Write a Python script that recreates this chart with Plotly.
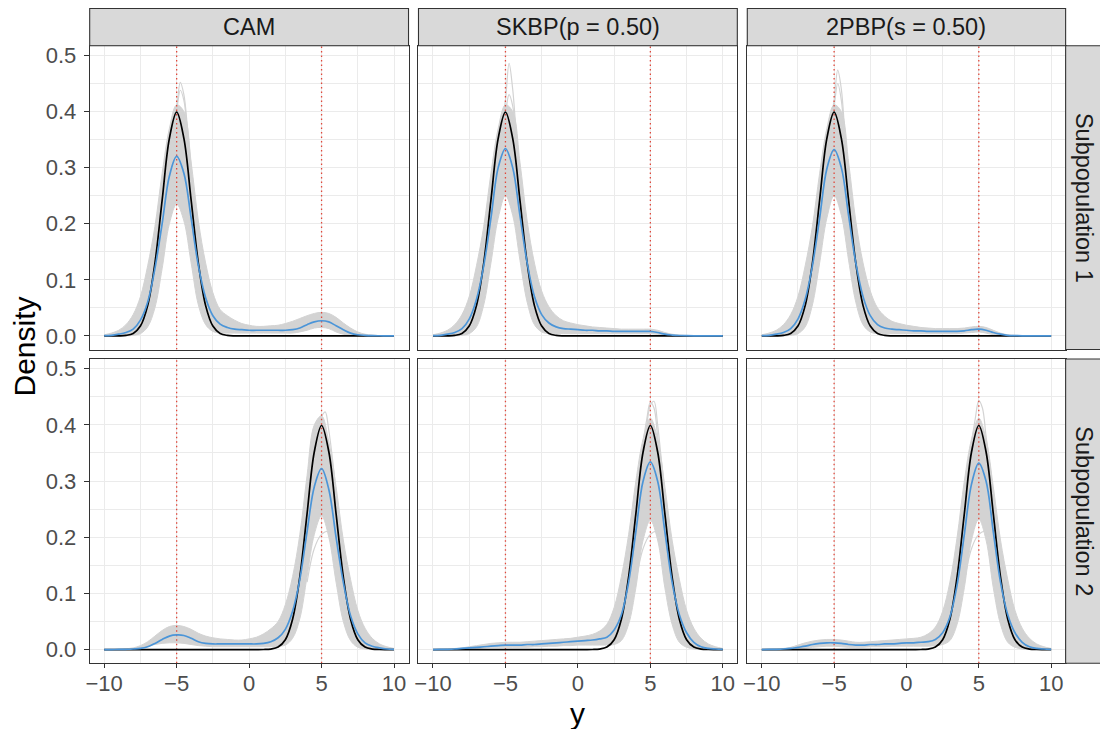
import plotly.graph_objects as go

# ---------------- data ----------------
x_grid = [-10.0, -9.5, -9.0, -8.5, -8.0, -7.5, -7.0, -6.5, -6.0, -5.5,
          -5.0, -4.5, -4.0, -3.5, -3.0, -2.5, -2.0, -1.5, -1.0, -0.5,
          0.0, 0.5, 1.0, 1.5, 2.0, 2.5, 3.0, 3.5, 4.0, 4.5,
          5.0, 5.5, 6.0, 6.5, 7.0, 7.5, 8.0, 8.5, 9.0, 9.5, 10.0]

methods = ["CAM", "SKBP(p = 0.50)", "2PBP(s = 0.50)"]
subpops = ["Subpopulation 1", "Subpopulation 2"]
true_modes = [-5, 5]

x_ticks = [-10, -5, 0, 5, 10]
x_tick_labels = ["\u221210", "\u22125", "0", "5", "10"]
x_minor = [-7.5, -2.5, 2.5, 7.5]
y_ticks = [0.0, 0.1, 0.2, 0.3, 0.4, 0.5]
y_tick_labels = ["0.0", "0.1", "0.2", "0.3", "0.4", "0.5"]
y_minor = [0.05, 0.15, 0.25, 0.35, 0.45]

# true densities (black)
true_sub1 = [0, 0, 0.0001, 0.0009, 0.0044, 0.0175, 0.054, 0.1295, 0.242, 0.3521,
             0.3989, 0.3521, 0.242, 0.1295, 0.054, 0.0175, 0.0044, 0.0009, 0.0001, 0,
             0, 0, 0, 0, 0, 0, 0, 0, 0, 0,
             0, 0, 0, 0, 0, 0, 0, 0, 0, 0, 0]
true_sub2 = [0, 0, 0, 0, 0, 0, 0, 0, 0, 0,
             0, 0, 0, 0, 0, 0, 0, 0, 0, 0,
             0, 0, 0.0001, 0.0009, 0.0044, 0.0175, 0.054, 0.1295, 0.242, 0.3521,
             0.3989, 0.3521, 0.242, 0.1295, 0.054, 0.0175, 0.0044, 0.0009, 0.0001, 0, 0]

# ---- CAM, subpopulation 1 ----
cam1_mean = [0.0005, 0.001, 0.003, 0.006, 0.012, 0.028, 0.06, 0.12, 0.2, 0.285,
             0.32, 0.29, 0.21, 0.125, 0.068, 0.036, 0.021, 0.015, 0.012, 0.011,
             0.010, 0.010, 0.010, 0.010, 0.010, 0.010, 0.011, 0.014, 0.020, 0.025,
             0.027, 0.025, 0.018, 0.011, 0.005, 0.002, 0.001, 0.0005, 0.0002, 0, 0]
cam1_hi = [0.002, 0.005, 0.010, 0.020, 0.038, 0.07, 0.125, 0.195, 0.29, 0.37,
           0.412, 0.40, 0.31, 0.205, 0.13, 0.077, 0.047, 0.036, 0.028, 0.022,
           0.019, 0.017, 0.017, 0.018, 0.019, 0.022, 0.026, 0.031, 0.036, 0.040,
           0.042, 0.040, 0.033, 0.023, 0.014, 0.007, 0.003, 0.0015, 0.0005, 0.0002, 0]
cam1_lo = [0, 0, 0, 0, 0.001, 0.004, 0.016, 0.05, 0.12, 0.2,
           0.235, 0.205, 0.13, 0.055, 0.02, 0.008, 0.005, 0.005, 0.005, 0.005,
           0.005, 0.005, 0.005, 0.005, 0.005, 0.005, 0.005, 0.007, 0.010, 0.014,
           0.015, 0.013, 0.007, 0.003, 0.001, 0, 0, 0, 0, 0, 0]

# ---- SKBP, subpopulation 1 ----
skbp1_mean = [0.0005, 0.001, 0.003, 0.006, 0.013, 0.03, 0.065, 0.125, 0.21, 0.30,
              0.334, 0.30, 0.215, 0.13, 0.07, 0.038, 0.023, 0.016, 0.013, 0.012,
              0.011, 0.010, 0.010, 0.009, 0.009, 0.008, 0.008, 0.008, 0.008, 0.008,
              0.008, 0.006, 0.003, 0.0015, 0.0007, 0.0003, 0, 0, 0, 0, 0]
skbp1_hi = [0.002, 0.005, 0.010, 0.020, 0.038, 0.07, 0.125, 0.195, 0.29, 0.37,
            0.412, 0.40, 0.31, 0.205, 0.13, 0.08, 0.052, 0.036, 0.027, 0.023,
            0.020, 0.018, 0.016, 0.015, 0.014, 0.013, 0.012, 0.012, 0.012, 0.012,
            0.012, 0.010, 0.006, 0.003, 0.0015, 0.0005, 0, 0, 0, 0, 0]
skbp1_lo = [0, 0, 0, 0, 0.001, 0.004, 0.016, 0.055, 0.13, 0.21,
            0.25, 0.215, 0.135, 0.06, 0.02, 0.007, 0.004, 0.004, 0.004, 0.004,
            0.004, 0.004, 0.004, 0.004, 0.004, 0.004, 0.004, 0.004, 0.004, 0.004,
            0.004, 0.003, 0.001, 0, 0, 0, 0, 0, 0, 0, 0]

# ---- 2PBP, subpopulation 1 ----
tpbp1_mean = [0.0005, 0.001, 0.003, 0.006, 0.013, 0.03, 0.065, 0.125, 0.21, 0.298,
              0.332, 0.30, 0.215, 0.13, 0.07, 0.036, 0.02, 0.014, 0.012, 0.011,
              0.010, 0.009, 0.009, 0.008, 0.008, 0.008, 0.008, 0.008, 0.009, 0.011,
              0.012, 0.010, 0.006, 0.003, 0.001, 0.0005, 0, 0, 0, 0, 0]
tpbp1_hi = [0.002, 0.005, 0.010, 0.020, 0.038, 0.07, 0.125, 0.195, 0.29, 0.37,
            0.412, 0.40, 0.31, 0.205, 0.13, 0.08, 0.05, 0.035, 0.026, 0.022,
            0.019, 0.017, 0.015, 0.014, 0.013, 0.013, 0.013, 0.013, 0.014, 0.016,
            0.017, 0.015, 0.010, 0.005, 0.002, 0.001, 0.0003, 0, 0, 0, 0]
tpbp1_lo = [0, 0, 0, 0, 0.001, 0.004, 0.016, 0.055, 0.13, 0.21,
            0.25, 0.215, 0.135, 0.06, 0.02, 0.007, 0.004, 0.004, 0.004, 0.004,
            0.004, 0.004, 0.004, 0.004, 0.004, 0.004, 0.004, 0.004, 0.005, 0.006,
            0.007, 0.005, 0.002, 0.0005, 0, 0, 0, 0, 0, 0, 0]

# ---- CAM, subpopulation 2 ----
cam2_mean = [0, 0, 0.0002, 0.0005, 0.001, 0.002, 0.005, 0.011, 0.018, 0.024,
             0.026, 0.025, 0.020, 0.014, 0.011, 0.010, 0.010, 0.010, 0.010, 0.010,
             0.010, 0.010, 0.011, 0.014, 0.021, 0.036, 0.068, 0.125, 0.21, 0.29,
             0.322, 0.285, 0.20, 0.12, 0.06, 0.028, 0.012, 0.006, 0.003, 0.001, 0.0005]
cam2_hi = [0, 0.0002, 0.0005, 0.0015, 0.003, 0.007, 0.014, 0.024, 0.034, 0.041,
           0.043, 0.041, 0.036, 0.029, 0.024, 0.021, 0.019, 0.018, 0.017, 0.017,
           0.019, 0.022, 0.028, 0.037, 0.05, 0.08, 0.13, 0.205, 0.31, 0.40,
           0.416, 0.37, 0.29, 0.195, 0.125, 0.07, 0.038, 0.020, 0.010, 0.005, 0.002]
cam2_lo = [0, 0, 0, 0, 0.001, 0.003, 0.006, 0.009, 0.011, 0.012,
           0.012, 0.011, 0.009, 0.007, 0.006, 0.005, 0.005, 0.005, 0.005, 0.005,
           0.005, 0.005, 0.005, 0.005, 0.006, 0.008, 0.02, 0.055, 0.13, 0.205,
           0.238, 0.20, 0.12, 0.05, 0.016, 0.004, 0.001, 0, 0, 0, 0]

# ---- SKBP, subpopulation 2 ----
skbp2_mean = [0, 0.0002, 0.0005, 0.001, 0.002, 0.003, 0.004, 0.005, 0.006, 0.007,
              0.008, 0.008, 0.008, 0.009, 0.009, 0.010, 0.011, 0.012, 0.013, 0.014,
              0.015, 0.016, 0.017, 0.019, 0.022, 0.035, 0.062, 0.12, 0.21, 0.30,
              0.334, 0.30, 0.21, 0.12, 0.062, 0.03, 0.013, 0.005, 0.002, 0.001, 0.0003]
skbp2_hi = [0, 0.0005, 0.001, 0.002, 0.003, 0.005, 0.007, 0.009, 0.011, 0.012,
            0.013, 0.013, 0.013, 0.014, 0.015, 0.016, 0.017, 0.018, 0.019, 0.020,
            0.022, 0.024, 0.027, 0.033, 0.045, 0.075, 0.13, 0.205, 0.30, 0.375,
            0.412, 0.375, 0.29, 0.195, 0.125, 0.07, 0.038, 0.020, 0.010, 0.005, 0.002]
skbp2_lo = [0, 0, 0, 0, 0, 0.001, 0.002, 0.003, 0.004, 0.004,
            0.004, 0.004, 0.004, 0.004, 0.005, 0.005, 0.006, 0.006, 0.007, 0.007,
            0.008, 0.008, 0.008, 0.008, 0.008, 0.009, 0.016, 0.045, 0.11, 0.195,
            0.23, 0.195, 0.11, 0.045, 0.013, 0.004, 0.001, 0, 0, 0, 0]

# ---- 2PBP, subpopulation 2 ----
tpbp2_mean = [0, 0.0002, 0.0005, 0.001, 0.002, 0.004, 0.006, 0.009, 0.011, 0.012,
              0.012, 0.011, 0.009, 0.008, 0.008, 0.009, 0.009, 0.010, 0.010, 0.011,
              0.012, 0.012, 0.013, 0.014, 0.018, 0.03, 0.058, 0.115, 0.205, 0.295,
              0.332, 0.30, 0.21, 0.12, 0.062, 0.03, 0.013, 0.005, 0.002, 0.001, 0.0003]
tpbp2_hi = [0, 0.0005, 0.001, 0.002, 0.004, 0.008, 0.012, 0.015, 0.017, 0.018,
            0.018, 0.017, 0.015, 0.013, 0.013, 0.014, 0.015, 0.016, 0.017, 0.018,
            0.019, 0.020, 0.022, 0.028, 0.04, 0.068, 0.12, 0.2, 0.30, 0.375,
            0.412, 0.375, 0.29, 0.195, 0.125, 0.07, 0.038, 0.020, 0.010, 0.005, 0.002]
tpbp2_lo = [0, 0, 0, 0, 0.0005, 0.001, 0.002, 0.004, 0.005, 0.006,
            0.006, 0.005, 0.004, 0.004, 0.004, 0.005, 0.005, 0.005, 0.006, 0.006,
            0.006, 0.006, 0.006, 0.006, 0.007, 0.009, 0.016, 0.045, 0.11, 0.195,
            0.232, 0.195, 0.11, 0.045, 0.013, 0.004, 0.001, 0, 0, 0, 0]

# individual replicate curves that stick out of the grey band (near the peak)
spike_x_sub1 = [-5.5, -5.25, -5.0, -4.75, -4.5, -4.25, -4.0]
spike_x_sub2 = [4.5, 4.75, 5.0, 5.25, 5.5, 5.75, 6.0]
cam1_spikes = [[0.35, 0.39, 0.41, 0.452, 0.43, 0.37, 0.30],
               [0.35, 0.39, 0.405, 0.438, 0.42, 0.36, 0.29]]
skbp1_spikes = [[0.35, 0.38, 0.42, 0.486, 0.44, 0.36, 0.29],
                [0.35, 0.38, 0.40, 0.43, 0.41, 0.35, 0.29]]
tpbp1_spikes = [[0.35, 0.38, 0.42, 0.474, 0.44, 0.36, 0.29],
                [0.35, 0.38, 0.41, 0.45, 0.42, 0.35, 0.29]]
cam2_spikes = [[0.38, 0.40, 0.415, 0.423, 0.39, 0.34, 0.28]]
skbp2_spikes = [[0.37, 0.41, 0.44, 0.43, 0.38, 0.33, 0.28],
                [0.36, 0.40, 0.435, 0.442, 0.40, 0.34, 0.28]]
tpbp2_spikes = [[0.37, 0.41, 0.443, 0.43, 0.38, 0.33, 0.28]]
# one low, flat replicate visible inside the bottom-row peaks
low_x_sub2 = [4.0, 4.5, 5.0, 5.5, 6.0]
low_sub2 = [0.12, 0.18, 0.205, 0.21, 0.15]

panels = [
    [  # Subpopulation 1
        dict(mean=cam1_mean, hi=cam1_hi, lo=cam1_lo, true=true_sub1, sx=spike_x_sub1, spikes=cam1_spikes, low=None),
        dict(mean=skbp1_mean, hi=skbp1_hi, lo=skbp1_lo, true=true_sub1, sx=spike_x_sub1, spikes=skbp1_spikes, low=None),
        dict(mean=tpbp1_mean, hi=tpbp1_hi, lo=tpbp1_lo, true=true_sub1, sx=spike_x_sub1, spikes=tpbp1_spikes, low=None),
    ],
    [  # Subpopulation 2
        dict(mean=cam2_mean, hi=cam2_hi, lo=cam2_lo, true=true_sub2, sx=spike_x_sub2, spikes=cam2_spikes, low=low_sub2),
        dict(mean=skbp2_mean, hi=skbp2_hi, lo=skbp2_lo, true=true_sub2, sx=spike_x_sub2, spikes=skbp2_spikes, low=low_sub2),
        dict(mean=tpbp2_mean, hi=tpbp2_hi, lo=tpbp2_lo, true=true_sub2, sx=spike_x_sub2, spikes=tpbp2_spikes, low=low_sub2),
    ],
]

for row in panels:
    for p in row:
        for k in ("mean", "hi", "lo", "true"):
            assert len(p[k]) == len(x_grid), (k, len(p[k]))

# ---------------- styling / layout ----------------
W, H = 1100, 729
X_RANGE = [-11, 11]
Y_RANGE = [-0.0244, 0.5172]
GREY = "#D3D3D3"
BLUE = "#4B95D8"
RED = "#E0473A"
FONT = "Liberation Sans, Arial, Helvetica, sans-serif"
TICK_SIZE = 22
STRIP_SIZE = 23.5
TITLE_SIZE = 30

col_px = [(86, 406), (416, 736), (746, 1065.5)]
row_px = [(43, 348), (357.5, 663)]
strip_top = (5.5, 43)
strip_right = (1065.5, 1100)


def fx(p):
    return p / W


def fy(p):
    return 1 - p / H


fig = go.Figure()
layout_axes = {}
shapes = []
annotations = []

for r in range(2):
    for c in range(3):
        idx = r * 3 + c + 1
        xa = "x" if idx == 1 else f"x{idx}"
        ya = "y" if idx == 1 else f"y{idx}"
        p = panels[r][c]
        # grey band of replicate curves
        fig.add_trace(go.Scatter(x=x_grid, y=p["lo"], mode="lines", line=dict(color=GREY, width=1, shape="spline"),
                                 xaxis=xa, yaxis=ya, showlegend=False, hoverinfo="skip"))
        fig.add_trace(go.Scatter(x=x_grid, y=p["hi"], mode="lines", line=dict(color=GREY, width=1, shape="spline"),
                                 fill="tonexty", fillcolor=GREY,
                                 xaxis=xa, yaxis=ya, showlegend=False, hoverinfo="skip"))
        for s in p["spikes"]:
            fig.add_trace(go.Scatter(x=p["sx"], y=s, mode="lines", line=dict(color=GREY, width=1.2, shape="spline"),
                                     xaxis=xa, yaxis=ya, showlegend=False, hoverinfo="skip"))
        if p["low"] is not None:
            fig.add_trace(go.Scatter(x=low_x_sub2, y=p["low"], mode="lines", line=dict(color=GREY, width=1.2, shape="spline"),
                                     xaxis=xa, yaxis=ya, showlegend=False, hoverinfo="skip"))
        # true mode markers (red dotted)
        for m in true_modes:
            fig.add_trace(go.Scatter(x=[m, m], y=Y_RANGE, mode="lines",
                                     line=dict(color=RED, width=1.3, dash="1.5px,3px"),
                                     xaxis=xa, yaxis=ya, showlegend=False, hoverinfo="skip"))
        # true density and mean estimate
        fig.add_trace(go.Scatter(x=x_grid, y=p["true"], mode="lines", line=dict(color="black", width=1.7, shape="spline"),
                                 xaxis=xa, yaxis=ya, showlegend=False))
        fig.add_trace(go.Scatter(x=x_grid, y=p["mean"], mode="lines", line=dict(color=BLUE, width=1.7, shape="spline"),
                                 xaxis=xa, yaxis=ya, showlegend=False))

        x0, x1 = col_px[c]
        y0, y1 = row_px[r]
        key_x = "xaxis" if idx == 1 else f"xaxis{idx}"
        key_y = "yaxis" if idx == 1 else f"yaxis{idx}"
        layout_axes[key_x] = dict(
            domain=[fx(x0), fx(x1)], anchor=ya, range=X_RANGE,
            tickmode="array", tickvals=x_ticks, ticktext=x_tick_labels,
            showticklabels=(r == 1), ticks="outside" if r == 1 else "",
            ticklen=4, tickwidth=1, tickcolor="#333333", ticklabelstandoff=-4,
            tickfont=dict(family=FONT, size=TICK_SIZE, color="#4D4D4D"),
            showgrid=True, gridcolor="#EBEBEB", gridwidth=1.2,
            minor=dict(tickmode="array", tickvals=x_minor, showgrid=True, gridcolor="#EBEBEB", gridwidth=0.6, ticks=""),
            showline=True, mirror=True, linecolor="#333333", linewidth=1.1,
            zeroline=False, fixedrange=True,
        )
        layout_axes[key_y] = dict(
            domain=[fy(y1), fy(y0)], anchor=xa, range=Y_RANGE,
            tickmode="array", tickvals=y_ticks, ticktext=y_tick_labels,
            showticklabels=(c == 0), ticks="outside" if c == 0 else "",
            ticklen=5, tickwidth=1, tickcolor="#333333", ticklabelstandoff=3,
            tickfont=dict(family=FONT, size=TICK_SIZE, color="#4D4D4D"),
            showgrid=True, gridcolor="#EBEBEB", gridwidth=1.2,
            minor=dict(tickmode="array", tickvals=y_minor, showgrid=True, gridcolor="#EBEBEB", gridwidth=0.6, ticks=""),
            showline=True, mirror=True, linecolor="#333333", linewidth=1.1,
            zeroline=False, fixedrange=True,
        )

# strips (facet labels)
for c, name in enumerate(methods):
    x0, x1 = col_px[c]
    shapes.append(dict(type="rect", xref="paper", yref="paper",
                       x0=fx(x0), x1=fx(x1), y0=fy(strip_top[1]), y1=fy(strip_top[0]),
                       fillcolor="#D9D9D9", line=dict(color="#333333", width=1.1), layer="above"))
    annotations.append(dict(text=name, xref="paper", yref="paper",
                            x=fx((x0 + x1) / 2), y=fy((strip_top[0] + strip_top[1]) / 2),
                            showarrow=False, xanchor="center", yanchor="middle",
                            font=dict(family=FONT, size=STRIP_SIZE, color="#1A1A1A")))
for r, name in enumerate(subpops):
    y0, y1 = row_px[r]
    shapes.append(dict(type="rect", xref="paper", yref="paper",
                       x0=fx(strip_right[0]), x1=fx(strip_right[1]) + 0.01, y0=fy(y1), y1=fy(y0),
                       fillcolor="#D9D9D9", line=dict(color="#333333", width=1.1), layer="above"))
    annotations.append(dict(text=name, xref="paper", yref="paper",
                            x=fx((strip_right[0] + strip_right[1]) / 2 + 1), y=fy((y0 + y1) / 2),
                            showarrow=False, xanchor="center", yanchor="middle", textangle=90,
                            font=dict(family=FONT, size=STRIP_SIZE, color="#1A1A1A")))

# axis titles
annotations.append(dict(text="Density", xref="paper", yref="paper", x=fx(21), y=fy(345),
                        showarrow=False, xanchor="center", yanchor="middle", textangle=-90,
                        font=dict(family=FONT, size=TITLE_SIZE, color="black")))
annotations.append(dict(text="y", xref="paper", yref="paper", x=fx(575.5), y=fy(713),
                        showarrow=False, xanchor="center", yanchor="middle",
                        font=dict(family=FONT, size=TITLE_SIZE, color="black")))

fig.update_layout(
    width=W, height=H, margin=dict(l=0, r=0, t=0, b=0),
    paper_bgcolor="white", plot_bgcolor="white",
    shapes=shapes, annotations=annotations, showlegend=False,
    **layout_axes,
)

fig.write_html("out.html")
